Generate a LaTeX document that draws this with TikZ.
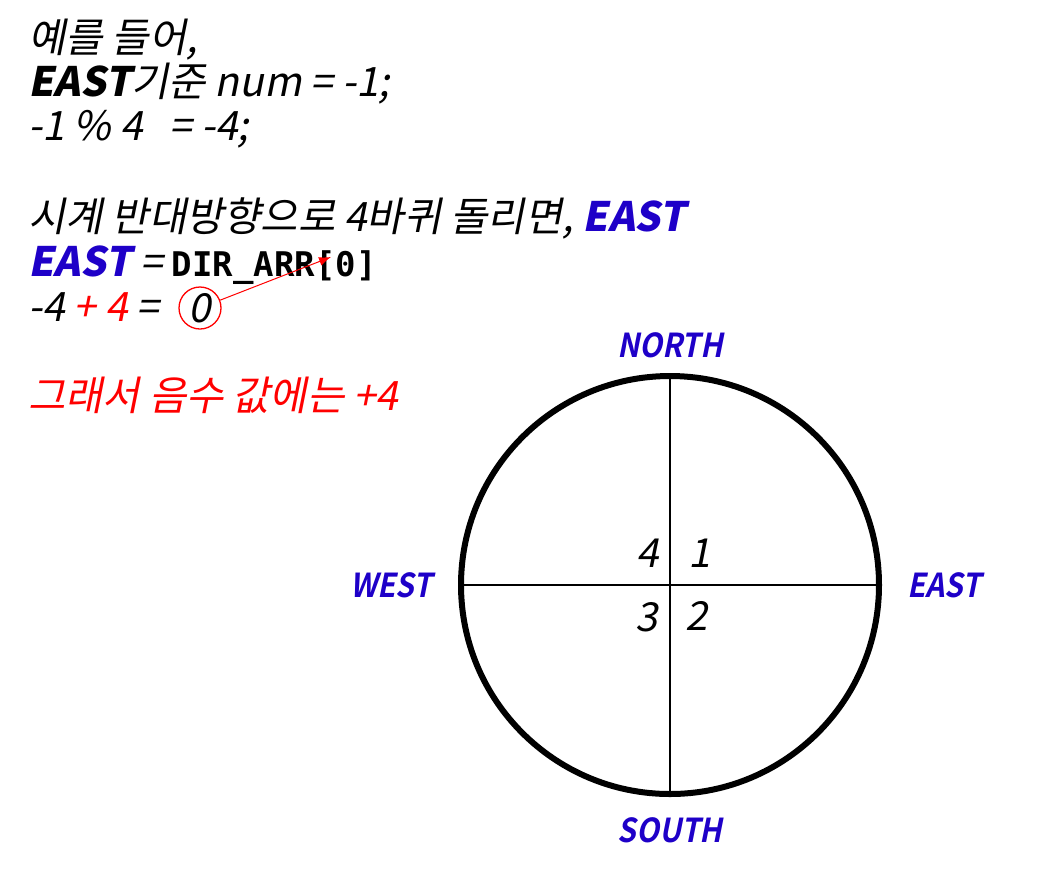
\documentclass[tikz,border=0pt]{standalone}
\usepackage{fontspec}
\setmainfont[FakeSlant=0.2]{Noto Sans CJK KR}
\newfontfamily\codefont{DejaVu Sans Mono}
\newfontfamily\dirfont[FakeSlant=0.2,FakeStretch=0.9]{Noto Sans CJK KR Bold}
\usetikzlibrary{arrows.meta}
\definecolor{dirblue}{RGB}{30,0,200}

\begin{document}
\begin{tikzpicture}[
        x=1pt, y=-1pt,
        % 글자 스타일
        txt/.style={anchor=base west, inner sep=0pt, font=\fontsize{40.5}{46}\selectfont},
        quad/.style={inner sep=0pt, font=\fontsize{40}{46}\selectfont},
        dirlabel/.style={inner sep=0pt, text=dirblue, font=\dirfont\fontsize{33}{36}\selectfont},
        % 원과 선
        compass/.style={circle, draw, line width=6pt, inner sep=0pt, minimum size=418pt},
        cross/.style={line width=1.4pt},
        zerobox/.style={circle, draw=red, line width=1.3pt, inner sep=1pt, minimum width=42pt, font=\fontsize{40}{46}\selectfont},
        link/.style={-{Latex[length=12pt,width=9pt]}, red, line width=1pt}
    ]

    \useasboundingbox (0,0) rectangle (1040,876);

    % --- 1. 설명 글 ---
    \node[txt] (l1) at (28,52) {예를 들어,};
    \node[txt] (l2) at (28,96) {{\bfseries EAST}기준 num = -1;};
    \node[txt] (l3) at (28,140) {-1 \% 4\ \ \ = -4;};

    \node[txt] (l4) at (28,231) {시계 반대방향으로 4바퀴 돌리면, {\bfseries\color{dirblue}EAST}};
    \node[txt] (l5) at (28,276) {{\bfseries\color{dirblue}EAST} = {\codefont\bfseries\fontsize{34}{40}\selectfont DIR\_ARR[0]}};
    \node[txt] (l6) at (28,321) {-4\ {\color{red}+\ 4}\ =};
    \node[zerobox] (zero) at (200,308) {0};

    \node[txt, red] (l7) at (28,410) {그래서 음수 값에는 +4};

    % --- 2. 화살표 (0 -> [0]) ---
    \coordinate (bracket) at (331,257);
    \draw[link] (zero) -- (bracket);

    % --- 3. 방향 원 ---
    \node[compass] (ring) at (670,585) {};
    \draw[cross] (ring.north) -- (ring.south);
    \draw[cross] (ring.west) -- (ring.east);

    % --- 4. 방향 이름 ---
    \node[dirlabel] (north) at (670,345) {NORTH};
    \node[dirlabel] (south) at (670,830) {SOUTH};
    \node[dirlabel] (west) at (391,585) {WEST};
    \node[dirlabel] (east) at (944,585) {EAST};

    % --- 5. 사분면 번호 ---
    \node[quad] (q1) at (700,553) {1};
    \node[quad] (q2) at (697,616) {2};
    \node[quad] (q3) at (647,617) {3};
    \node[quad] (q4) at (648,553) {4};

\end{tikzpicture}
\end{document}
